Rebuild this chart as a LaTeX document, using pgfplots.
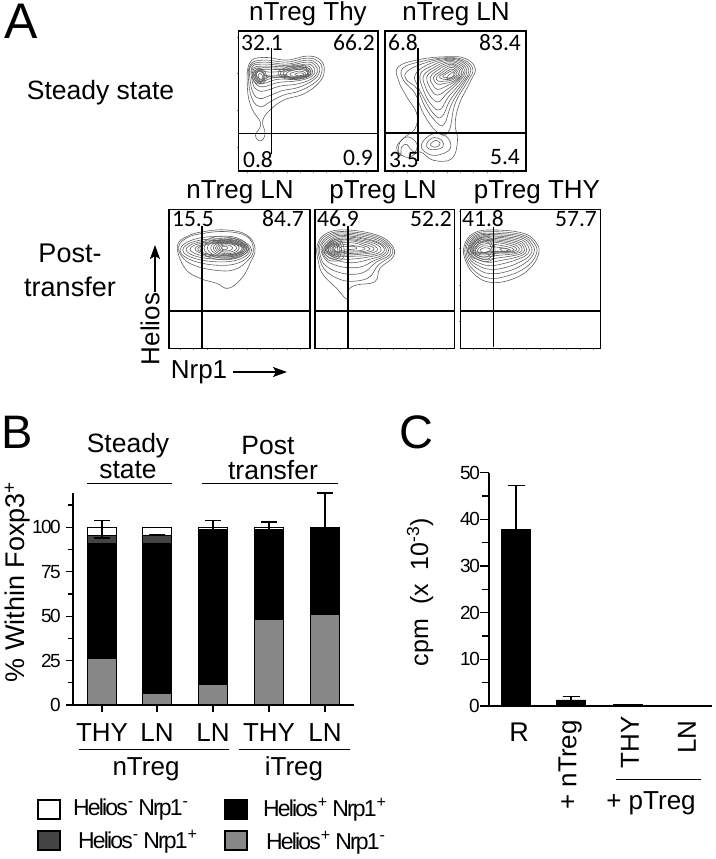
\documentclass[border=0pt]{standalone}
\usepackage{fontspec}
\setmainfont{Liberation Sans}
\newfontfamily\tight[LetterSpace=-8]{Liberation Sans}
\newfontfamily\carl{Carlito}
\usepackage{pgfplots}
\pgfplotsset{compat=1.18}
\usetikzlibrary{arrows.meta}
\newcommand\fs[1]{\fontsize{#1}{#1}\selectfont}
\newcommand\C[1]{\addplot[ct] coordinates {#1};}
\newcommand\G[1]{\addplot[black,line width=1.2pt] coordinates {#1};}
\newcommand\T[4]{\node[inner sep=0pt,font=\fs{#3}] at (#1,-#2) {#4};}
\newcommand\N[3]{\node[inner sep=0pt,font=\carl\fs{23.5}] at (#1,-#2) {#3};}
\pgfplotsset{
  ct/.style={black!62,line width=.6pt,smooth cycle,tension=.7,mark=none},
  flow/.style={scale only axis,y dir=reverse,axis line style={line width=1.2pt},
    tick align=outside,tickwidth=1.5pt,tick style={black!50,line width=.3pt},
    xticklabels={},yticklabels={},ytick distance=110,xtick distance=40,
    xtick pos=bottom,ytick pos=left},
}
\definecolor{gbar}{HTML}{878787}
\definecolor{dbar}{HTML}{444444}
\begin{document}
\begin{tikzpicture}[x=1pt,y=1pt]
\useasboundingbox (0,0) rectangle (715,-859);
% ---------- panel 1
\begin{axis}[flow,at={(238.5pt,-171pt)},anchor=south west,width=139.5pt,height=140pt,xmin=55,xmax=475,ymin=93,ymax=512]
\C{(88,190)(130,172)(200,180)(262,168)(302,180)(313,215)(295,250)(250,282)(195,298)(155,325)(128,360)(135,400)(122,422)(106,405)(122,370)(95,325)(82,265)}
\C{(90,195)(130,180)(200,186)(262,174)(298,186)(306,215)(288,245)(240,272)(190,285)(150,305)(122,320)(98,300)(86,250)}
\C{(92,198)(130,186)(200,192)(262,180)(292,192)(299,215)(280,240)(235,262)(185,272)(140,290)(118,295)(100,280)(90,240)}
\C{(95,202)(130,192)(200,196)(262,186)(286,196)(292,217)(272,238)(230,252)(180,258)(135,272)(112,270)(98,250)}
\C{(98,205)(130,198)(205,200)(260,192)(280,200)(284,218)(265,234)(225,243)(175,247)(130,260)(108,252)(98,232)}
\C{(100,208)(130,203)(205,204)(258,197)(274,205)(277,220)(258,232)(220,237)(170,238)(130,250)(110,245)(100,228)}
\C{(103,212)(128,208)(205,208)(255,202)(270,210)(271,222)(252,231)(215,233)(165,232)(128,243)(112,238)(103,225)}
\C{(106,215)(125,212)(150,216)(205,212)(250,206)(265,213)(265,224)(245,230)(210,230)(160,228)(128,237)(113,232)}
\C{(175,215)(205,200)(240,195)(268,205)(272,222)(250,235)(210,238)(182,230)}
\C{(182,217)(210,204)(240,199)(264,208)(266,222)(246,232)(212,235)(188,228)}
\C{(190,218)(215,207)(240,203)(260,211)(262,222)(242,231)(214,233)(195,227)}
\C{(98,225)(115,205)(135,215)(138,240)(120,252)(102,245)}
\C{(102,225)(116,209)(131,217)(134,238)(120,248)(106,242)}
\C{(106,225)(117,212)(129,220)(130,237)(120,245)(109,240)}
\C{(110,218)(122,215)(135,225)(130,240)(118,244)(110,232)}
\C{(115,224)(122,221)(128,230)(124,240)(117,238)}
\C{(200,218)(235,208)(262,215)(260,226)(235,232)(205,229)}
\C{(212,220)(238,213)(256,218)(252,226)(232,229)(214,227)}
\C{(225,222)(240,218)(252,222)(245,226)(230,226)}
\C{(135,226)(170,225)(200,224)(170,232)}
\G{(55,400)(475,400)}
\G{(155,145)(155,462)}
\end{axis}
% ---------- panel 2
\begin{axis}[flow,at={(385pt,-171pt)},anchor=south west,width=141pt,height=140pt,xmin=495,xmax=917,ymin=93,ymax=512]
\C{(535,200)(600,178)(680,170)(735,175)(765,205)(750,245)(718,310)(705,370)(712,420)(695,475)(640,480)(600,455)(570,470)(545,465)(530,440)(555,410)(585,385)(590,340)(560,290)(535,240)}
\C{(548,205)(600,185)(680,173)(732,180)(758,208)(742,245)(705,310)(685,395)(650,395)(610,340)(585,280)(550,240)}
\C{(560,215)(610,190)(680,175)(728,183)(752,210)(735,245)(695,310)(672,372)(648,365)(615,320)(590,265)(560,240)}
\C{(585,225)(620,195)(680,178)(725,186)(746,212)(730,245)(690,300)(665,350)(640,340)(612,295)(592,255)}
\C{(600,225)(630,200)(680,181)(722,190)(740,214)(724,245)(685,290)(660,328)(635,315)(612,275)}
\C{(610,228)(638,204)(682,185)(718,193)(735,216)(718,243)(680,280)(655,305)(632,290)(616,260)}
\C{(620,232)(645,208)(684,189)(715,197)(730,218)(712,243)(678,270)(652,285)(634,270)}
\C{(630,232)(650,212)(686,193)(712,200)(725,220)(706,243)(674,260)(652,268)(638,254)}
\C{(640,232)(658,216)(688,197)(710,204)(720,222)(700,243)(672,250)(652,252)}
\C{(648,232)(665,218)(690,202)(707,208)(715,224)(695,240)(670,243)(655,243)}
\C{(658,230)(672,220)(692,207)(705,212)(710,225)(692,237)(668,237)}
\C{(668,230)(680,220)(695,212)(703,217)(704,226)(690,233)}
\C{(680,232)(695,218)(702,220)(698,228)(688,236)}
\C{(605,430)(640,400)(680,410)(690,445)(650,465)(615,455)}
\C{(620,430)(640,412)(665,420)(668,440)(645,448)(625,445)}
\C{(632,430)(648,420)(660,430)(650,440)(635,438)}
\C{(535,460)(540,425)(565,410)(590,430)(585,455)(570,445)(560,432)(545,440)(542,465)}
\G{(495,398)(917,398)}
\G{(594,143)(594,483)}
\end{axis}
% ---------- panel 3
\begin{axis}[flow,at={(169pt,-348.3pt)},anchor=south west,width=141pt,height=139pt,xmin=207,xmax=630,ymin=103,ymax=520]
\C{(232,215)(260,185)(310,170)(380,165)(440,180)(465,220)(450,265)(425,310)(385,340)(350,325)(300,310)(255,280)}
\C{(236,215)(262,188)(310,175)(380,170)(440,184)(460,222)(445,255)(400,285)(340,285)(285,272)(250,250)}
\C{(240,226)(294,190)(401,190)(455,226)(401,268)(294,262)}
\C{(248,225)(298,196)(400,196)(450,225)(400,258)(298,254)}
\C{(258,224)(305,200)(399,200)(446,224)(399,250)(305,248)}
\C{(270,223)(313,203)(398,203)(441,223)(398,244)(313,243)}
\C{(285,222)(323,205)(398,205)(436,222)(398,240)(323,240)}
\C{(293,222)(328,207)(396,207)(430,222)(396,238)(328,238)}
\C{(300,220)(336,188)(409,188)(445,220)(409,250)(336,250)}
\C{(312,220)(344,193)(408,193)(440,220)(408,246)(344,246)}
\C{(322,219)(350,196)(407,196)(436,219)(407,243)(350,243)}
\C{(332,219)(357,199)(406,199)(431,219)(406,240)(357,240)}
\C{(340,219)(361,202)(404,202)(426,219)(404,237)(361,237)}
\C{(346,219)(364,205)(400,205)(418,219)(400,234)(364,234)}
\C{(352,219)(366,208)(396,208)(410,219)(396,230)(366,230)}
\C{(358,219)(368,211)(388,211)(398,219)(388,227)(368,227)}
\C{(364,219)(369,214)(379,214)(384,219)(379,224)(369,224)}
\G{(207,408)(630,408)}
\G{(306,152)(306,520)}
\end{axis}
% ---------- panel 4
\begin{axis}[flow,at={(315pt,-348.3pt)},anchor=south west,width=139.3pt,height=139pt,xmin=645,xmax=1063,ymin=103,ymax=520]
\C{(652,210)(680,175)(740,165)(830,180)(875,210)(880,245)(840,280)(825,320)(770,330)(745,345)(740,372)(710,340)(670,300)(655,260)}
\C{(656,210)(685,178)(740,170)(828,184)(870,212)(875,240)(835,270)(810,305)(770,318)(725,315)(680,290)(660,255)}
\C{(660,212)(690,181)(740,174)(825,188)(865,213)(868,240)(828,262)(795,290)(755,298)(710,290)(675,270)(662,245)}
\C{(664,214)(695,184)(740,178)(822,192)(860,214)(860,238)(820,258)(785,275)(745,278)(705,270)(675,252)}
\C{(668,216)(700,187)(740,182)(818,196)(855,216)(852,238)(812,252)(770,262)(735,262)(700,252)(677,240)}
\C{(672,218)(703,190)(745,186)(815,198)(850,216)(845,236)(805,246)(760,252)(720,252)(695,243)(680,235)}
\C{(676,220)(705,194)(745,190)(812,202)(842,218)(835,234)(795,242)(750,244)(715,245)(690,237)}
\C{(680,222)(708,198)(750,194)(805,205)(832,220)(822,232)(780,238)(745,240)(710,240)(690,233)}
\C{(684,222)(710,202)(755,198)(795,208)(822,220)(810,230)(770,235)(740,236)(708,237)}
\C{(690,222)(712,205)(760,204)(790,212)(810,221)(795,229)(760,231)(735,232)(708,234)}
\C{(695,222)(712,208)(745,210)(785,216)(795,221)(780,227)(745,228)(712,232)}
\C{(698,222)(712,211)(728,215)(760,214)(770,221)(745,224)(725,226)(712,232)}
\C{(703,224)(714,214)(725,222)(716,232)}
\C{(670,225)(698,196)(726,200)(730,248)(695,258)(674,244)}
\C{(675,225)(700,200)(722,205)(720,245)(695,252)(678,240)}
\C{(680,225)(702,205)(716,210)(716,240)(698,246)}
\C{(685,225)(703,209)(712,214)(712,236)(699,241)}
\G{(645,408)(1063,408)}
\G{(744,152)(744,520)}
\end{axis}
% ---------- panel 5
\begin{axis}[flow,at={(460.3pt,-348.3pt)},anchor=south west,width=140.3pt,height=139pt,xmin=1081,xmax=1502,ymin=103,ymax=520]
\C{(1092,215)(1120,175)(1180,165)(1270,175)(1310,205)(1315,240)(1285,285)(1230,315)(1170,322)(1125,300)(1098,260)}
\C{(1096,215)(1124,178)(1180,170)(1268,180)(1305,208)(1308,240)(1278,277)(1225,302)(1170,310)(1130,293)(1102,258)}
\C{(1100,215)(1128,181)(1180,175)(1265,184)(1298,210)(1300,238)(1270,268)(1220,290)(1170,296)(1135,283)(1106,255)}
\C{(1104,217)(1130,184)(1180,179)(1262,188)(1292,212)(1292,238)(1262,260)(1215,278)(1170,283)(1135,272)(1110,252)}
\C{(1106,218)(1132,187)(1180,183)(1258,192)(1285,214)(1284,236)(1255,252)(1210,266)(1168,272)(1132,262)(1112,246)}
\C{(1108,220)(1134,190)(1180,186)(1254,196)(1278,216)(1276,235)(1248,247)(1205,256)(1165,262)(1132,253)(1114,243)}
\C{(1110,222)(1136,193)(1180,190)(1250,200)(1272,218)(1268,234)(1240,242)(1200,248)(1160,253)(1132,246)}
\C{(1112,224)(1138,196)(1180,194)(1246,204)(1266,220)(1260,232)(1232,238)(1195,241)(1155,246)(1130,240)}
\C{(1115,225)(1140,200)(1185,198)(1240,208)(1258,221)(1250,231)(1225,234)(1190,235)(1155,240)(1130,236)}
\C{(1120,226)(1142,204)(1185,202)(1234,212)(1250,222)(1240,230)(1215,232)(1185,232)(1155,236)(1132,234)}
\C{(1126,226)(1145,208)(1180,208)(1225,216)(1242,224)(1228,230)(1200,230)(1175,230)(1150,234)(1135,232)}
\C{(1132,226)(1148,213)(1175,215)(1215,220)(1225,226)(1200,229)(1170,229)(1150,233)(1138,232)}
\C{(1140,226)(1155,218)(1172,224)(1155,233)}
\C{(1200,222)(1215,220)(1232,226)(1215,231)}
\C{(1112,226)(1135,192)(1172,190)(1185,230)(1170,258)(1130,252)}
\C{(1118,226)(1138,197)(1168,196)(1180,230)(1165,252)(1132,247)}
\C{(1124,226)(1142,202)(1164,202)(1176,228)(1160,246)(1135,242)}
\G{(1081,408)(1502,408)}
\G{(1180,155)(1180,515)}
\end{axis}
% ---------- panel B
\begin{axis}[scale only axis,at={(73pt,-705pt)},anchor=south west,width=281pt,height=212pt,
  xmin=73,xmax=354,ymin=0,ymax=119.3,ybar stacked,bar width=29,
  axis x line*=bottom,axis y line*=left,axis line style={line width=1.2pt},
  xtick={102,157,213,269,325},xticklabels={THY,LN,LN,THY,LN},
  ytick={0,25,50,75,100},minor ytick={12.5,37.5,62.5,87.5,112.5},
  tick align=outside,major tick length=7pt,minor tick length=5pt,
  tick style={black,line width=1.2pt},
  yticklabel style={font=\tight\fs{19},inner sep=0pt,xshift=-5pt},
  xticklabel style={font=\fs{26},inner sep=0pt,yshift=-11pt},
  /pgf/number format/assume math mode=true]
\addplot[fill=gbar,draw=black,line width=1.1pt] coordinates {(102,26)(157,6.5)(213,11.5)(269,48)(325,51)};
\addplot[fill=black,draw=black,line width=1.1pt] coordinates {(102,65)(157,84.5)(213,87)(269,50.5)(325,49)};
\addplot[fill=dbar,draw=black,line width=1.1pt] coordinates {(102,4.5)(157,4.5)(213,.5)(269,0)(325,0)};
\addplot[fill=white,draw=black,line width=1.1pt] coordinates {(102,4.5)(157,4.5)(213,1)(269,1.5)(325,0)};
\end{axis}
\begin{axis}[scale only axis,at={(73pt,-705pt)},anchor=south west,width=281pt,height=212pt,
  xmin=73,xmax=354,ymin=0,ymax=119.3,hide axis,clip=false]
\addplot[draw=none,mark=none,forget plot,error bars/.cd,y dir=both,y explicit,
  error bar style={black,line width=1.1pt},error mark=|,
  error mark options={black,line width=1.1pt,mark size=8pt}] coordinates {
  (102,100) += (0,4) -= (0,6)
  (157,95.7) += (0,.5) -= (0,.5)
  (213,100) += (0,4) -= (0,1)
  (269,100) += (0,3) -= (0,1)
  (325,100) += (0,19.3) -= (0,0)
};
\end{axis}
% ---------- panel C
\begin{axis}[scale only axis,at={(489pt,-706pt)},anchor=south west,width=223pt,height=233.3pt,
  xmin=489,xmax=712,ymin=0,ymax=50,ybar,bar width=29,
  axis x line*=bottom,axis y line*=left,axis line style={line width=1.2pt},
  xtick=\empty,
  ytick={0,10,20,30,40,50},minor ytick={5,15,25,35,45},
  tick align=outside,major tick length=9pt,minor tick length=7pt,
  tick style={black,line width=1.2pt},
  yticklabel style={font=\tight\fs{19},inner sep=0pt,xshift=0pt},
  /pgf/number format/assume math mode=true]
\addplot[fill=black,draw=black,line width=.8pt,error bars/.cd,y dir=plus,y explicit,
  error bar style={black,line width=1.1pt},error mark=|,
  error mark options={black,line width=1.1pt,mark size=8.5pt}] coordinates {
  (516,37.8) += (0,9.4)
  (571,1.3) += (0,.7)
  (628,.3) += (0,.1)
  (685,.15) += (0,.05)
};
\end{axis}
% ---------- text: A
\T{21}{21}{50}{A}
\T{308}{14}{26}{nTreg Thy}
\T{456}{14}{26}{nTreg LN}
\T{100.5}{93}{26.5}{Steady state}
\T{70}{253}{27}{Post-}
\T{70}{287}{27}{transfer}
\T{240}{192}{26}{nTreg LN}
\T{383}{192}{26}{pTreg LN}
\T{537}{192}{26}{pTreg THY}
\node[inner sep=0pt,font=\fs{26},rotate=90] at (150,-329) {Helios};
\draw[-{Stealth[length=14pt,width=10pt,inset=3pt]},line width=1.4pt] (155,-292) -- (155,-245);
\T{199}{372}{26}{Nrp1}
\draw[-{Stealth[length=14pt,width=10pt,inset=3pt]},line width=1.4pt] (233,-372) -- (287,-372);
\N{262}{43}{32.1}\N{354}{43}{66.2}\N{258}{160}{0.8}\N{358}{158}{0.9}
\N{403}{43}{6.8}\N{500}{43}{83.4}\N{404}{160}{3.5}\N{505}{157}{5.4}
\N{193}{219}{15.5}\N{283}{219}{84.7}
\N{338}{219}{46.9}\N{431}{219}{52.2}
\N{483}{219}{41.8}\N{576}{219}{57.7}
% ---------- text: B
\T{17}{432}{47}{B}
\T{128}{446}{26.5}{Steady}
\T{128}{470}{26.5}{state}
\draw[line width=.9pt] (87,-483) -- (172,-483);
\T{268}{446}{26.5}{Post}
\T{273}{470}{26.5}{transfer}
\draw[line width=.9pt] (202,-483) -- (338,-483);
\node[inner sep=0pt,font=\fs{27},rotate=90] at (17.5,-582) {\% Within Foxp3\textsuperscript{+}};
\draw[line width=.9pt] (79,-749) -- (229,-749);
\draw[line width=.9pt] (239,-749) -- (350,-749);
\T{146}{769}{26}{nTreg}
\T{294}{769}{26}{iTreg}
\draw[fill=white,line width=1.4pt] (38,-800) rectangle (60,-819);
\draw[fill=dbar,line width=1.4pt] (38,-831) rectangle (60,-850);
\draw[fill=black,line width=1.4pt] (225,-800) rectangle (247,-819);
\draw[fill=gbar,line width=1.4pt] (225,-831) rectangle (247,-850);
\node[inner sep=0pt,anchor=west,font=\tight\fs{23}] at (73,-810) {Helios\textsuperscript{-} Nrp1\textsuperscript{-}};
\node[inner sep=0pt,anchor=west,font=\tight\fs{23}] at (78,-842) {Helios\textsuperscript{-} Nrp1\textsuperscript{+}};
\node[inner sep=0pt,anchor=west,font=\tight\fs{23}] at (263,-810) {Helios\textsuperscript{+} Nrp1\textsuperscript{+}};
\node[inner sep=0pt,anchor=west,font=\tight\fs{23}] at (266,-843) {Helios\textsuperscript{+} Nrp1\textsuperscript{-}};
% ---------- text: C
\T{416}{432}{47}{C}
\T{519}{732}{27}{R}
\node[inner sep=0pt,font=\fs{26},rotate=90] at (570,-765) {+ nTreg};
\node[inner sep=0pt,font=\fs{26},rotate=90] at (630,-742) {THY};
\node[inner sep=0pt,font=\fs{26},rotate=90] at (687,-737) {LN};
\draw[line width=.9pt] (616,-779) -- (701,-779);
\T{651}{803}{26}{+ pTreg}
\node[inner sep=0pt,font=\fs{25},rotate=90] at (420,-592) {cpm\; (x\; 10\textsuperscript{-3})};
\end{tikzpicture}
\end{document}
